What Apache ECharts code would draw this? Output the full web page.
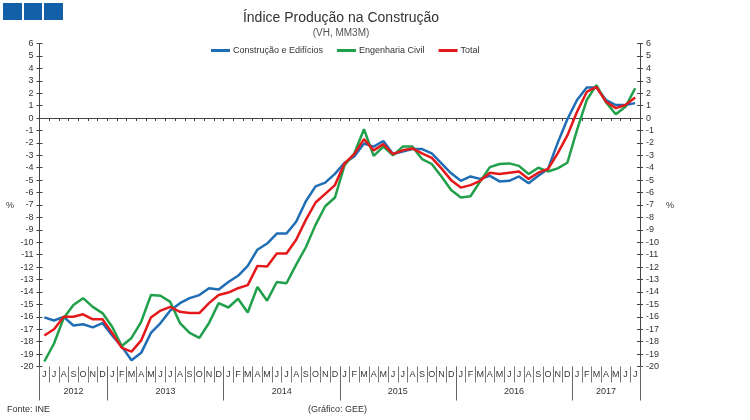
<!DOCTYPE html>
<html>
<head>
<meta charset="utf-8">
<script src="https://cdn.jsdelivr.net/npm/echarts@6/dist/echarts.min.js"></script>
<style>html,body{margin:0;padding:0;background:#fff}#c{width:750px;height:420px}</style>
</head>
<body>
<div id="c"></div>
<script>
// Month letters, Jun 2012 .. Jul 2017
const months = [
  'J','J','A','S','O','N','D',
  'J','F','M','A','M','J','J','A','S','O','N','D',
  'J','F','M','A','M','J','J','A','S','O','N','D',
  'J','F','M','A','M','J','J','A','S','O','N','D',
  'J','F','M','A','M','J','J','A','S','O','N','D',
  'J','F','M','A','M','J','J'
];
const yearLabels = ['2012','2013','2014','2015','2016','2017'];
const yearMonthCounts = [7,12,12,12,12,7];

const construcaoEdificios = [
  -16.05,-16.3,-16.0,-16.7,-16.6,-16.85,-16.5,
  -17.5,-18.4,-19.5,-18.9,-17.3,-16.5,-15.5,-14.9,-14.5,-14.25,-13.7,-13.8,
  -13.2,-12.7,-11.9,-10.6,-10.1,-9.3,-9.3,-8.35,-6.7,-5.5,-5.2,-4.5,
  -3.6,-3.1,-2.05,-2.3,-1.85,-2.9,-2.7,-2.5,-2.5,-2.85,-3.65,-4.45,
  -5.05,-4.7,-4.9,-4.65,-5.1,-5.05,-4.7,-5.25,-4.65,-4.1,-2.0,-0.1,
  1.45,2.45,2.45,1.45,1.05,1.05,1.2
];
const engenhariaCivil = [
  -19.6,-18.15,-16.1,-15.05,-14.5,-15.2,-15.7,
  -16.8,-18.35,-17.7,-16.4,-14.25,-14.3,-14.8,-16.5,-17.3,-17.7,-16.5,-14.9,
  -15.25,-14.55,-15.65,-13.6,-14.7,-13.2,-13.3,-11.8,-10.4,-8.6,-7.1,-6.4,
  -3.8,-2.85,-0.9,-3.05,-2.3,-3.0,-2.3,-2.3,-3.3,-3.7,-4.7,-5.8,
  -6.4,-6.3,-5.1,-3.95,-3.7,-3.65,-3.85,-4.5,-4.0,-4.3,-4.05,-3.6,
  -0.95,1.45,2.65,1.25,0.3,0.9,2.4
];
const total = [
  -17.5,-17.0,-16.0,-16.0,-15.8,-16.2,-16.2,
  -17.3,-18.5,-18.8,-17.9,-16.05,-15.5,-15.2,-15.6,-15.7,-15.7,-14.9,-14.25,
  -14.05,-13.7,-13.45,-11.9,-11.95,-10.9,-10.9,-9.8,-8.2,-6.8,-6.1,-5.4,
  -3.65,-2.9,-1.7,-2.6,-2.1,-2.9,-2.6,-2.45,-2.85,-3.2,-4.05,-5.0,
  -5.6,-5.4,-5.05,-4.4,-4.5,-4.4,-4.3,-4.9,-4.4,-4.1,-2.85,-1.4,
  0.5,2.1,2.5,1.3,0.8,1.05,1.65
];

// Year boundaries & centers (in month units) derived from counts
const yearBounds = [0];
const yearCenters = [];
yearMonthCounts.forEach(function (n) {
  const s = yearBounds[yearBounds.length - 1];
  yearCenters.push(s + n / 2);
  yearBounds.push(s + n);
});

const FONT = 'Liberation Sans, Arial, sans-serif';
const AX = '#444';
const chart = echarts.init(document.getElementById('c'), null, {renderer: 'canvas'});

function yAx(pos, inside, showLabel) {
  return {
    type: 'value', position: pos, min: -20, max: 6, interval: 1,
    axisLine: {show: !inside, lineStyle: {color: AX, width: 1}},
    axisTick: {show: true, inside: inside, length: 3, lineStyle: {color: AX}},
    axisLabel: {show: showLabel, fontSize: 9, color: '#333', fontFamily: FONT, margin: 6},
    splitLine: {show: false}
  };
}

chart.setOption({
  animation: false,
  backgroundColor: '#fff',
  title: {
    text: 'Índice Produção na Construção',
    subtext: '(VH, MM3M)',
    left: 336, top: 6, textAlign: 'center', itemGap: 3,
    textStyle: {fontSize: 14, fontWeight: 'normal', color: '#333', fontFamily: FONT},
    subtextStyle: {fontSize: 10, color: '#555', fontFamily: FONT}
  },
  legend: {
    left: 206, top: 41, icon: 'rect', itemWidth: 19, itemHeight: 3, itemGap: 14,
    textStyle: {fontSize: 9, color: '#333', fontFamily: FONT, padding: [0, 0, 0, -2]},
    data: ['Construção e Edifícios', 'Engenharia Civil', 'Total']
  },
  grid: {left: 39.5, right: 110, top: 43.5, bottom: 53.5, containLabel: false},
  xAxis: [
    {
      type: 'category', data: months, position: 'bottom',
      axisLine: {show: true, onZero: true, lineStyle: {color: AX}},
      axisTick: {show: true, length: 3, interval: 0, lineStyle: {color: AX}},
      axisLabel: {show: false},
      splitLine: {show: false}
    },
    {
      type: 'category', data: months, position: 'bottom',
      axisLine: {show: false, onZero: false},
      axisTick: {show: true, length: 16, interval: 0, lineStyle: {color: '#777'}},
      axisLabel: {show: true, interval: 0, fontSize: 9, color: '#333', fontFamily: FONT, margin: 4},
      splitLine: {show: false}
    },
    {
      type: 'value', position: 'bottom', min: 0, max: months.length,
      axisLine: {show: false, onZero: false},
      axisTick: {show: true, length: 34, customValues: yearBounds, lineStyle: {color: '#666'}},
      axisLabel: {
        show: true, customValues: yearCenters, fontSize: 9, color: '#333', fontFamily: FONT, margin: 21,
        formatter: function (v) {
          const i = yearCenters.indexOf(v);
          return i >= 0 ? yearLabels[i] : '';
        }
      },
      splitLine: {show: false}
    }
  ],
  yAxis: [
    yAx('left', false, true),
    yAx('left', true, false),
    yAx('right', false, true),
    yAx('right', true, false)
  ],
  series: [
    {name: 'Construção e Edifícios', type: 'line', data: construcaoEdificios, xAxisIndex: 0, yAxisIndex: 0,
     showSymbol: false, lineStyle: {width: 2.5, color: '#1f6db5'}, itemStyle: {color: '#1f6db5'}},
    {name: 'Engenharia Civil', type: 'line', data: engenhariaCivil, xAxisIndex: 0, yAxisIndex: 0,
     showSymbol: false, lineStyle: {width: 2.5, color: '#20a04b'}, itemStyle: {color: '#20a04b'}},
    {name: 'Total', type: 'line', data: total, xAxisIndex: 0, yAxisIndex: 0,
     showSymbol: false, lineStyle: {width: 2.5, color: '#e3191c'}, itemStyle: {color: '#e3191c'}}
  ],
  graphic: [
    {type: 'rect', shape: {x: 3, y: 3, width: 19, height: 17}, style: {fill: '#1460a8'}},
    {type: 'rect', shape: {x: 24, y: 3, width: 18, height: 17}, style: {fill: '#1460a8'}},
    {type: 'rect', shape: {x: 44, y: 3, width: 19, height: 17}, style: {fill: '#1460a8'}},
    {type: 'text', left: 6, top: 201, style: {text: '%', fontSize: 9, fill: '#333', fontFamily: FONT}},
    {type: 'text', left: 666, top: 201, style: {text: '%', fontSize: 9, fill: '#333', fontFamily: FONT}},
    {type: 'text', left: 7, top: 405, style: {text: 'Fonte: INE', fontSize: 9, fill: '#333', fontFamily: FONT}},
    {type: 'text', left: 308, top: 405, style: {text: '(Gráfico: GEE)', fontSize: 9, fill: '#333', fontFamily: FONT}}
  ]
});
</script>
</body>
</html>
